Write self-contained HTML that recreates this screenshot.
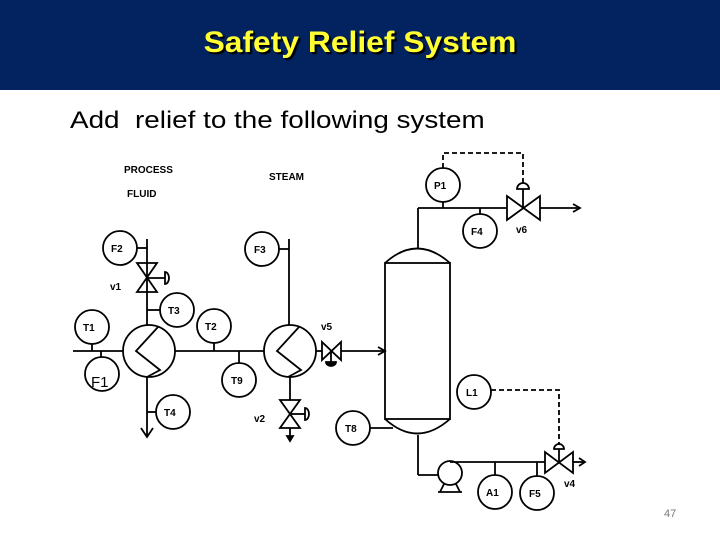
<!DOCTYPE html>
<html><head><meta charset="utf-8"><style>
html,body{margin:0;padding:0;background:#fff;}
body{width:720px;height:540px;position:relative;overflow:hidden;font-family:"Liberation Sans",sans-serif;}
.hdr{position:absolute;left:0;top:0;width:720px;height:90px;background:#022360;}
.title{position:absolute;left:0;width:720px;top:26px;text-align:center;color:#ffff33;font-weight:bold;font-size:30px;text-shadow:2px 2px 1px #000;transform:scaleX(1.06);}
.sub{position:absolute;left:70px;top:107px;font-size:24px;color:#000;transform-origin:0 0;transform:scaleX(1.16);}
.pg{position:absolute;left:664px;top:508px;font-size:11px;color:#777;}
svg{position:absolute;left:0;top:0;}
</style></head><body>
<div class="hdr"></div>
<div class="title">Safety Relief System</div>
<div class="sub">Add&nbsp; relief to the following system</div>
<div class="pg">47</div>
<svg width="720" height="540" viewBox="0 0 720 540" font-family="Liberation Sans, sans-serif" font-weight="bold" font-size="10">
<g fill="none" stroke="#000" stroke-width="1.8">
<line x1="73" y1="351" x2="123" y2="351"/>
<line x1="92" y1="344" x2="92" y2="351"/>
<line x1="101" y1="351" x2="101" y2="357"/>
<circle cx="92" cy="327" r="17"/>
<circle cx="102" cy="374" r="17"/>
<circle cx="149" cy="351" r="26"/>
<polyline points="158,327 136,351 160,370 147,377"/>
<line x1="147" y1="239" x2="147" y2="325"/>
<line x1="137" y1="248" x2="147" y2="248"/>
<circle cx="120" cy="248" r="17"/>
<polygon points="137,263 157,263 137,292 157,292"/>
<line x1="147" y1="278" x2="165" y2="278"/>
<path d="M165,272 A4,6 0 0 1 165,284 Z"/>
<line x1="147" y1="310" x2="160" y2="310"/>
<circle cx="177" cy="310" r="17"/>
<line x1="147" y1="377" x2="147" y2="437"/>
<polyline points="141,428 147,437 153,428"/>
<line x1="147" y1="412" x2="156" y2="412"/>
<circle cx="173" cy="412" r="17"/>
<line x1="175" y1="351" x2="264" y2="351"/>
<line x1="214" y1="343" x2="214" y2="351"/>
<circle cx="214" cy="326" r="17"/>
<line x1="239" y1="351" x2="239" y2="363"/>
<circle cx="239" cy="380" r="17"/>
<circle cx="290" cy="351" r="26"/>
<polyline points="299,327 277,351 301,370 288,377"/>
<line x1="289" y1="239" x2="289" y2="325"/>
<line x1="279" y1="249" x2="289" y2="249"/>
<circle cx="262" cy="249" r="17"/>
<line x1="290" y1="377" x2="290" y2="400"/>
<polygon points="280,400 300,400 280,428 300,428"/>
<line x1="290" y1="414" x2="305" y2="414"/>
<path d="M305,408 A4,6 0 0 1 305,420 Z"/>
<line x1="290" y1="428" x2="290" y2="438"/>
<polygon points="287,436 293,436 290,441" fill="#000"/>
<line x1="316" y1="351" x2="322" y2="351"/>
<polygon points="322,342 322,360 341,342 341,360"/>
<line x1="331" y1="351" x2="331" y2="362"/>
<path d="M326,362 A5,4 0 0 0 336,362 Z" fill="#000"/>
<line x1="341" y1="351" x2="385" y2="351"/>
<polyline points="378,347 385,351 378,355"/>
<rect x="385" y="263" width="65" height="156"/>
<path d="M385,263 Q417,234 450,263"/>
<path d="M385,419 Q417,448 450,419"/>
<line x1="370" y1="428" x2="393" y2="428"/>
<circle cx="353" cy="428" r="17"/>
<line x1="418" y1="248" x2="418" y2="208"/>
<line x1="418" y1="208" x2="507" y2="208"/>
<line x1="443" y1="202" x2="443" y2="208"/>
<circle cx="443" cy="185" r="17"/>
<line x1="480" y1="208" x2="480" y2="214"/>
<circle cx="480" cy="231" r="17"/>
<polygon points="507,196 507,220 540,196 540,220"/>
<line x1="523" y1="208" x2="523" y2="189"/>
<path d="M517,189 A6,6 0 0 1 529,189 Z"/>
<line x1="540" y1="208" x2="580" y2="208"/>
<polyline points="573,204 580,208 573,212"/>
<polyline points="443,168 443,153 523,153 523,183" stroke-dasharray="5,3"/>
<circle cx="474" cy="392" r="17"/>
<polyline points="491,390 559,390 559,445" stroke-dasharray="5,3"/>
<line x1="418" y1="435" x2="418" y2="475"/>
<line x1="418" y1="475" x2="438" y2="475"/>
<circle cx="450" cy="473" r="12"/>
<path d="M440,492 L444,484 M460,492 L456,484"/>
<line x1="438" y1="492" x2="462" y2="492"/>
<line x1="450" y1="462" x2="545" y2="462"/>
<line x1="495" y1="462" x2="495" y2="475"/>
<circle cx="495" cy="492" r="17"/>
<line x1="537" y1="462" x2="537" y2="476"/>
<circle cx="537" cy="493" r="17"/>
<polygon points="545,452 545,473 573,452 573,473"/>
<line x1="559" y1="462" x2="559" y2="449"/>
<path d="M554,449 A5,5 0 0 1 564,449 Z"/>
<line x1="573" y1="462" x2="585" y2="462"/>
<polyline points="579,458 585,462 579,466"/>
</g>
<g fill="#000">
<text x="124" y="173">PROCESS</text>
<text x="127" y="197">FLUID</text>
<text x="269" y="180">STEAM</text>
<text x="111" y="252">F2</text>
<text x="254" y="253">F3</text>
<text x="110" y="290">v1</text>
<text x="168" y="314">T3</text>
<text x="83" y="331">T1</text>
<text x="205" y="330">T2</text>
<text x="321" y="330">v5</text>
<text x="231" y="384">T9</text>
<text x="164" y="416">T4</text>
<text x="254" y="422">v2</text>
<text x="345" y="432">T8</text>
<text x="434" y="189">P1</text>
<text x="471" y="235">F4</text>
<text x="516" y="233">v6</text>
<text x="466" y="396">L1</text>
<text x="486" y="496">A1</text>
<text x="529" y="497">F5</text>
<text x="564" y="487">v4</text>
<text x="91" y="387" font-weight="normal" font-size="15">F1</text>
</g>
</svg>
</body></html>
